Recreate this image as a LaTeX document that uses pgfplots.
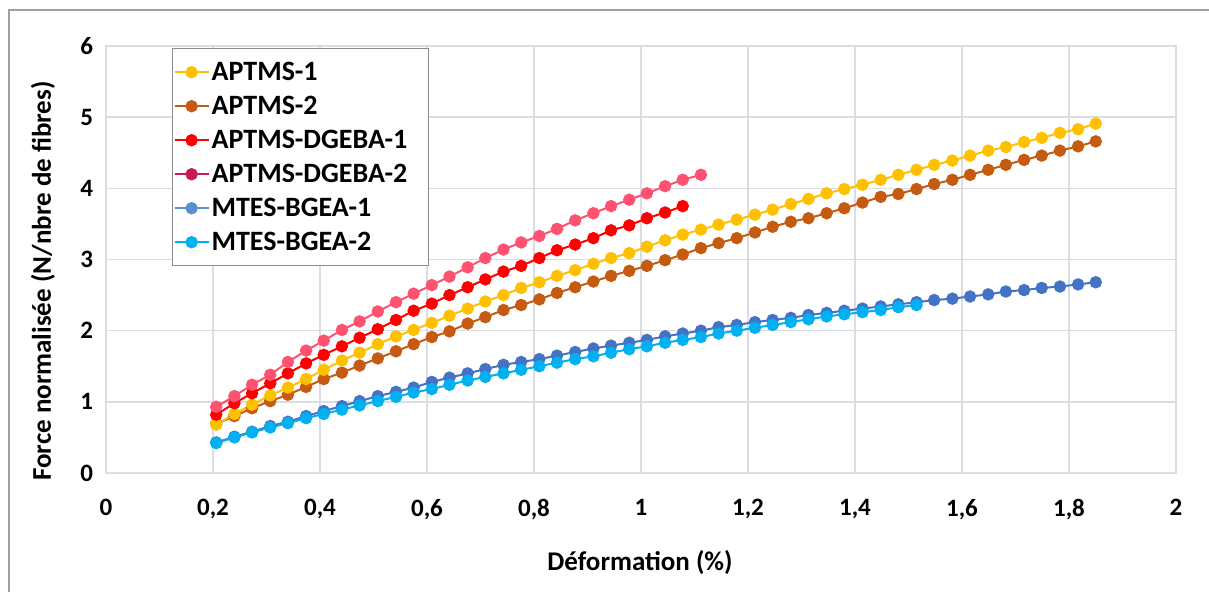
\documentclass[border=0pt]{standalone}
\usepackage{fontspec}
\setmainfont{Carlito}
\usepackage{pgfplots}
\usepackage{pgfplotstable}
\pgfplotsset{compat=1.18}
\definecolor{cA}{HTML}{FFC000}
\definecolor{cB}{HTML}{C55A11}
\definecolor{cC}{HTML}{FF0000}
\definecolor{cD}{HTML}{FF5270}
\definecolor{cDl}{HTML}{C8185A}
\definecolor{cE}{HTML}{4472C4}
\definecolor{cEl}{HTML}{5B8FCB}
\definecolor{cF}{HTML}{00B0F0}
\definecolor{gridc}{HTML}{DADDE3}
\definecolor{framec}{HTML}{A0A0A0}
\definecolor{legc}{HTML}{8C8C8C}

\pgfplotstableread{
x a1 a2 d1 d2 m1 m2
0.206 0.68 0.69 0.82 0.93 0.43 0.42
0.240 0.83 0.80 0.98 1.08 0.51 0.50
0.273 0.96 0.91 1.12 1.24 0.58 0.57
0.307 1.09 1.01 1.26 1.38 0.66 0.64
0.340 1.20 1.10 1.40 1.56 0.72 0.70
0.374 1.32 1.21 1.54 1.72 0.80 0.77
0.407 1.45 1.32 1.66 1.86 0.87 0.83
0.441 1.58 1.41 1.78 2.01 0.94 0.89
0.474 1.69 1.51 1.90 2.13 1.01 0.95
0.508 1.81 1.61 2.02 2.27 1.08 1.01
0.542 1.92 1.71 2.15 2.40 1.14 1.07
0.575 2.01 1.81 2.28 2.52 1.20 1.13
0.609 2.11 1.91 2.38 2.64 1.28 1.18
0.642 2.21 1.99 2.50 2.76 1.34 1.24
0.676 2.31 2.10 2.61 2.89 1.40 1.30
0.709 2.41 2.19 2.72 3.02 1.46 1.35
0.743 2.50 2.29 2.83 3.14 1.52 1.40
0.776 2.60 2.36 2.91 3.24 1.56 1.45
0.810 2.68 2.44 3.02 3.33 1.60 1.50
0.843 2.77 2.53 3.13 3.43 1.65 1.55
0.877 2.85 2.61 3.21 3.55 1.70 1.60
0.911 2.94 2.69 3.30 3.65 1.75 1.64
0.944 3.02 2.77 3.41 3.75 1.79 1.69
0.978 3.09 2.84 3.48 3.84 1.83 1.74
1.011 3.18 2.91 3.58 3.93 1.87 1.78
1.045 3.27 2.99 3.66 4.03 1.92 1.83
1.078 3.35 3.07 3.75 4.12 1.96 1.87
1.112 3.42 3.16 nan 4.19 2.00 1.91
1.145 3.49 3.23 nan nan 2.05 1.96
1.179 3.56 3.30 nan nan 2.08 2.00
1.213 3.63 3.38 nan nan 2.12 2.04
1.246 3.70 3.46 nan nan 2.15 2.08
1.280 3.78 3.53 nan nan 2.18 2.12
1.313 3.85 3.58 nan nan 2.22 2.16
1.347 3.93 3.65 nan nan 2.25 2.20
1.380 3.99 3.72 nan nan 2.28 2.23
1.414 4.05 3.80 nan nan 2.31 2.26
1.448 4.12 3.88 nan nan 2.34 2.29
1.481 4.19 3.92 nan nan 2.37 2.33
1.515 4.26 3.99 nan nan 2.40 2.36
1.548 4.33 4.06 nan nan 2.43 nan
1.582 4.39 4.12 nan nan 2.45 nan
1.615 4.46 4.19 nan nan 2.48 nan
1.649 4.53 4.26 nan nan 2.51 nan
1.682 4.58 4.33 nan nan 2.55 nan
1.716 4.65 4.40 nan nan 2.57 nan
1.749 4.71 4.46 nan nan 2.60 nan
1.783 4.78 4.53 nan nan 2.62 nan
1.817 4.83 4.59 nan nan 2.65 nan
1.850 4.91 4.66 nan nan 2.68 nan
}\datatable

\begin{document}
\begin{tikzpicture}
\useasboundingbox (0,0) rectangle (604.5pt,296pt);
\draw[color=framec, line width=1pt] (4.5pt,-2pt) -- (4.5pt,291pt) -- (607pt,291pt);
\begin{axis}[
  at={(53pt,59.5pt)}, anchor=south west,
  scale only axis, width=535pt, height=213.5pt,
  xmin=0, xmax=2, ymin=0, ymax=6,
  xtick={0,0.2,0.4,0.6,0.8,1,1.2,1.4,1.6,1.8,2},
  xticklabels={0,{0,2},{0,4},{0,6},{0,8},1,{1,2},{1,4},{1,6},{1,8},2},
  ytick={0,1,2,3,4,5,6},
  yticklabels={0,1,2,3,4,5,6},
  grid=major,
  major grid style={color=gridc, line width=0.75pt},
  axis line style={color=gridc, line width=0.75pt},
  major tick length=0pt,
  tick label style={font=\fontsize{12.5}{14}\selectfont\bfseries},
  xticklabel style={yshift=-9.5pt},
  yticklabel style={xshift=-3pt},
  every axis plot/.append style={line width=1pt, mark=*, mark size=2.6pt, mark options={solid}},
  legend image code/.code={
    \draw[mark repeat=2,mark phase=2,#1] plot coordinates {(0pt,0pt) (8.5pt,0pt) (17pt,0pt)};
  },
  legend cell align=left,
  legend style={
    at={(0.0617,0.995)}, anchor=north west,
    draw=legc, line width=0.6pt, fill=white,
    font=\fontsize{14}{17}\selectfont\bfseries,
    inner xsep=0.5pt, inner ysep=5.6pt,
    row sep=4.7pt,
    nodes={inner sep=1pt, text height=9.5pt, text depth=0.8pt, text width=107pt},
  },
]
\addplot[color=cB, forget plot] table[x=x, y=a2] {\datatable};
\addplot[color=cA, forget plot] table[x=x, y=a1] {\datatable};
\addplot[color=cC, forget plot] table[x=x, y=d1] {\datatable};
\addplot[color=cD, forget plot] table[x=x, y=d2] {\datatable};
\addplot[color=cE, forget plot] table[x=x, y=m1] {\datatable};
\addplot[color=cF, forget plot] table[x=x, y=m2] {\datatable};
\addlegendimage{color=cA, line width=1pt, mark=*, mark size=2.6pt}
\addlegendentry{APTMS-1}
\addlegendimage{color=cB, line width=1pt, mark=*, mark size=2.6pt}
\addlegendentry{APTMS-2}
\addlegendimage{color=cC, line width=1pt, mark=*, mark size=2.6pt}
\addlegendentry{APTMS-DGEBA-1}
\addlegendimage{color=cDl, line width=1pt, mark=*, mark size=2.6pt}
\addlegendentry{APTMS-DGEBA-2}
\addlegendimage{color=cEl, line width=1pt, mark=*, mark size=2.6pt}
\addlegendentry{MTES-BGEA-1}
\addlegendimage{color=cF, line width=1pt, mark=*, mark size=2.6pt}
\addlegendentry{MTES-BGEA-2}
\end{axis}
\node[rotate=90, font=\fontsize{13.5}{16}\selectfont\bfseries] at (21.5pt,155.5pt) {Force normalisée (N/nbre de fibres)};
\node[font=\fontsize{13.5}{16}\selectfont\bfseries] at (320pt,14.5pt) {Déformation (\%)};
\end{tikzpicture}
\end{document}
